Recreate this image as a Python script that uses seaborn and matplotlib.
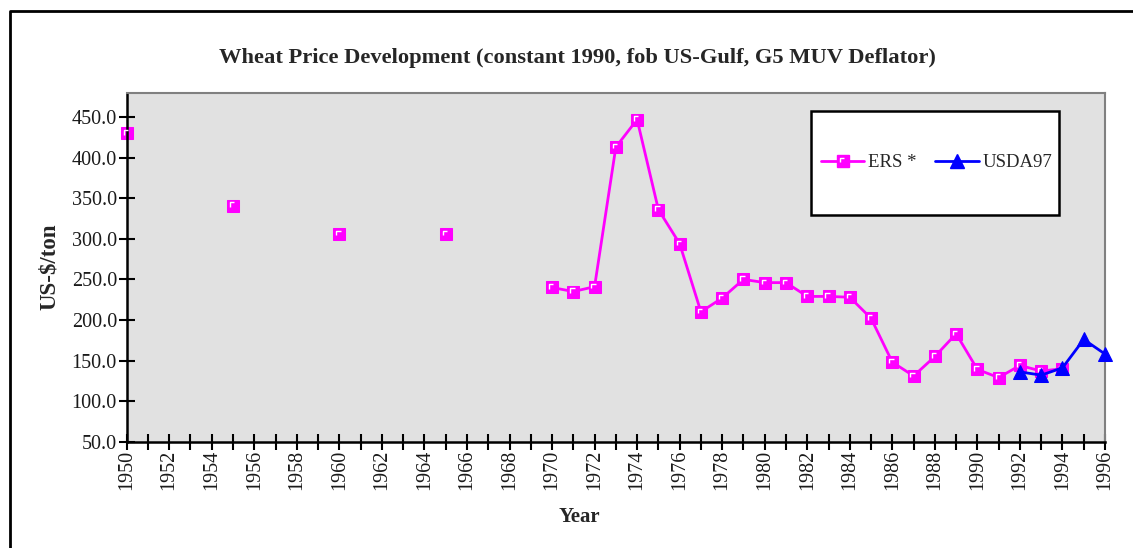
import numpy as np
import pandas as pd
import matplotlib
matplotlib.use("Agg")
import matplotlib.pyplot as plt
import seaborn as sns
from matplotlib.lines import Line2D
from matplotlib.patches import Rectangle
from matplotlib.path import Path
from matplotlib.legend_handler import HandlerTuple
from matplotlib.ticker import MultipleLocator, FormatStrFormatter


# ERS series (isolated points before 1970, then yearly)
ers_years = [1950, 1955, 1960, 1965,
             1970, 1971, 1972, 1973, 1974, 1975, 1976, 1977, 1978, 1979,
             1980, 1981, 1982, 1983, 1984, 1985, 1986, 1987, 1988, 1989,
             1990, 1991, 1992, 1993, 1994]
ers_values = [430, 341, 306, 306,
              240, 235, 241, 413, 447, 336, 294, 210, 227, 250,
              246, 246, 229, 229, 228, 202, 148, 131, 155, 183,
              139, 129, 144, 137, 140]

# USDA97 series
usda_years = [1992, 1993, 1994, 1995, 1996]
usda_values = [136, 132, 141, 176, 158]

x_ticks = list(range(1950, 1997, 2))
y_ticks = list(range(50, 451, 50))

MAGENTA = "#ff00ff"
BLUE = "#0000ff"
BG = "#e1e1e1"

sns.set_theme(style="white")
plt.rcParams["font.family"] = ["Liberation Serif", "DejaVu Serif"]

# break the ERS series into contiguous runs so gaps stay unconnected
ers = pd.DataFrame({"year": ers_years, "price": ers_values})
ers["segment"] = (ers["year"].diff() != 1).cumsum()
usda = pd.DataFrame({"year": usda_years, "price": usda_values})

fig = plt.figure(figsize=(11.33, 5.48), dpi=100)
ax = fig.add_axes([0.1118, 0.194, 0.8635, 0.6368])
ax.set_facecolor(BG)

# white corner highlight on the square markers
corner = Path([(-0.5, -0.2), (-0.5, 0.5), (0.2, 0.5)],
              [Path.MOVETO, Path.LINETO, Path.LINETO])

sns.lineplot(data=ers, x="year", y="price", units="segment", estimator=None,
             color=MAGENTA, lw=2, marker="s", markersize=8,
             markerfacecolor=MAGENTA, markeredgecolor=MAGENTA, ax=ax,
             legend=False, clip_on=False)
sns.scatterplot(data=ers, x="year", y="price", marker=corner, s=20,
                facecolor="none", edgecolor="white", linewidth=1.0, ax=ax,
                zorder=5, legend=False, clip_on=False)
sns.lineplot(data=usda, x="year", y="price", color=BLUE, lw=2, marker="^",
             markersize=10, markerfacecolor=BLUE, markeredgecolor=BLUE,
             ax=ax, legend=False, zorder=6, clip_on=False)

ax.set_xlim(1950, 1996)
ax.set_ylim(50, 480)
ax.set_xticks(x_ticks)
ax.set_xticklabels([str(y) for y in x_ticks], rotation=90)
ax.xaxis.set_minor_locator(MultipleLocator(1))
ax.set_yticks(y_ticks)
ax.yaxis.set_major_formatter(FormatStrFormatter("%.1f"))
ax.tick_params(axis="both", which="both", direction="inout", length=12,
               width=1.5, color="black", labelsize=14.5, labelcolor="#1a1a1a")
ax.tick_params(axis="x", which="both", bottom=True, top=False, pad=0)
ax.tick_params(axis="y", left=True, right=False, pad=1)

for side in ["left", "bottom"]:
    ax.spines[side].set_color("black")
    ax.spines[side].set_linewidth(1.8)
for side in ["top", "right"]:
    ax.spines[side].set_color("#808080")
    ax.spines[side].set_linewidth(1.5)

ax.set_xlabel("")
ax.set_ylabel("US-$/ton", fontsize=16.5, fontweight="bold")
ax.yaxis.set_label_coords(-0.068, 0.5)
ax.text(0.463, -0.216, "Year", transform=ax.transAxes, ha="center",
        va="center", fontsize=15, fontweight="bold")

fig.text(577 / 1133, 1 - 58 / 548,
         "Wheat Price Development (constant 1990, fob US-Gulf, G5 MUV Deflator)",
         ha="center", va="center", fontsize=16.2, fontweight="bold")

# legend box drawn separately (tall white panel), legend itself frameless
ax.add_patch(Rectangle((0.6995, 0.6496), 0.2535, 0.298, transform=ax.transAxes,
                       facecolor="white", edgecolor="black", lw=1.8, zorder=7))
h_ers = Line2D([], [], color=MAGENTA, lw=2, marker="s", markersize=8)
h_ers_c = Line2D([], [], ls="none", marker=corner, markersize=4.5,
                 markerfacecolor="none", markeredgecolor="white", mew=1.0)
h_usda = Line2D([], [], color=BLUE, lw=2, marker="^", markersize=10)
leg = ax.legend([(h_ers, h_ers_c), h_usda], ["ERS *", "USDA97"], ncol=2,
                handler_map={tuple: HandlerTuple(ndivide=1)},
                loc="center", bbox_to_anchor=(0.828, 0.799),
                fontsize=13.5, frameon=False, borderpad=0,
                handlelength=2.3, handletextpad=0.2, columnspacing=1.0,
                borderaxespad=0)
leg.set_zorder(8)

# outer chart frame (runs off the right and bottom edges)
fx = 9.5 / 1133
fy = 1 - 11 / 548
fig.add_artist(Line2D([1.0, fx, fx], [fy, fy, 0.0], transform=fig.transFigure,
                      color="black", lw=2))

fig.savefig("out.png", dpi=100)
